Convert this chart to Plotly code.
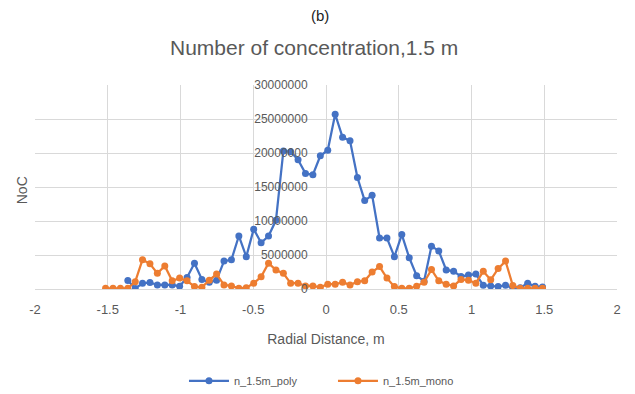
import plotly.graph_objects as go

radial_distance = [-1.515, -1.464, -1.413, -1.362, -1.311, -1.261, -1.210, -1.159, -1.108, -1.057,
                   -1.006, -0.955, -0.904, -0.853, -0.802, -0.752, -0.701, -0.650, -0.599, -0.548,
                   -0.497, -0.446, -0.395, -0.344, -0.293, -0.243, -0.192, -0.141, -0.090, -0.039,
                   0.012, 0.063, 0.114, 0.165, 0.216, 0.266, 0.317, 0.368, 0.419, 0.470,
                   0.521, 0.572, 0.623, 0.674, 0.725, 0.775, 0.826, 0.877, 0.928, 0.979,
                   1.030, 1.081, 1.132, 1.183, 1.234, 1.284, 1.335, 1.386, 1.437, 1.488]

n_poly = [None, None, None, 1.25e6, 0.08e6, 0.85e6, 0.95e6, 0.6e6, 0.6e6, 0.6e6,
          0.4e6, 1.7e6, 3.8e6, 1.4e6, 1.0e6, 1.3e6, 4.1e6, 4.3e6, 7.8e6, 4.75e6,
          8.8e6, 6.8e6, 7.8e6, 10.1e6, 20.3e6, 20.2e6, 19.0e6, 17.0e6, 16.8e6, 19.6e6,
          20.4e6, 25.7e6, 22.3e6, 21.8e6, 16.4e6, 13.0e6, 13.8e6, 7.5e6, 7.5e6, 4.75e6,
          8.0e6, 4.6e6, 1.95e6, 1.15e6, 6.3e6, 5.6e6, 2.8e6, 2.6e6, 1.85e6, 2.05e6,
          2.2e6, 0.55e6, 0.45e6, 0.35e6, 0.55e6, 0.15e6, 0.2e6, 0.85e6, 0.4e6, 0.3e6]

n_mono = [0.1e6, 0.1e6, 0.1e6, 0.1e6, 1.07e6, 4.3e6, 3.7e6, 2.3e6, 3.4e6, 1.2e6,
          1.6e6, 1.2e6, 0.35e6, 0.25e6, 1.3e6, 2.2e6, 0.6e6, 0.45e6, 0.1e6, 0.2e6,
          0.85e6, 1.8e6, 3.8e6, 2.8e6, 2.3e6, 0.85e6, 0.85e6, 0.45e6, 0.45e6, 0.25e6,
          0.7e6, 0.7e6, 1.0e6, 0.6e6, 1.07e6, 1.2e6, 2.5e6, 3.3e6, 1.6e6, 0.35e6,
          0.1e6, 0.1e6, 0.4e6, 1.0e6, 2.85e6, 1.2e6, 0.7e6, 0.45e6, 1.4e6, 1.3e6,
          0.85e6, 2.6e6, 1.35e6, 3.0e6, 4.1e6, 0.5e6, 0.1e6, 0.1e6, 0.1e6, 0.1e6]

x_tick_values = [-2, -1.5, -1, -0.5, 0, 0.5, 1, 1.5, 2]
x_tick_labels = ["-2", "-1.5", "-1", "-0.5", "0", "0.5", "1", "1.5", "2"]
y_tick_values = [0, 5000000, 10000000, 15000000, 20000000, 25000000, 30000000]

font_family = "Liberation Sans, Arial, sans-serif"
text_grey = "#595959"
grid_grey = "#D9D9D9"

fig = go.Figure()
fig.add_trace(go.Scatter(
    x=radial_distance, y=n_poly, name="n_1.5m_poly", mode="lines+markers",
    line=dict(color="#4472C4", width=2.25), marker=dict(color="#4472C4", size=7),
    connectgaps=False))
fig.add_trace(go.Scatter(
    x=radial_distance, y=n_mono, name="n_1.5m_mono", mode="lines+markers",
    line=dict(color="#ED7D31", width=2.25), marker=dict(color="#ED7D31", size=7)))

fig.update_layout(
    width=635, height=394,
    margin=dict(l=35, r=18, t=85, b=105, autoexpand=False),
    paper_bgcolor="white", plot_bgcolor="white",
    font=dict(family=font_family, size=12, color=text_grey),
    showlegend=True,
    legend=dict(orientation="h", x=0.512, xanchor="center", y=-0.45, yanchor="middle",
                font=dict(size=11, color=text_grey), itemwidth=40,
                entrywidth=94, entrywidthmode="pixels"),
    xaxis=dict(range=[-2, 2], tickvals=x_tick_values, ticktext=x_tick_labels,
               automargin=False,
               showgrid=True, gridcolor=grid_grey, gridwidth=1,
               zeroline=True, zerolinecolor=grid_grey, zerolinewidth=1,
               showline=True, linecolor=grid_grey, linewidth=1,
               ticks="outside", ticklen=8, tickcolor="rgba(0,0,0,0)",
               tickfont=dict(size=13, color=text_grey),
               title=dict(text="Radial Distance, m", font=dict(size=14, color=text_grey), standoff=18)),
    yaxis=dict(range=[0, 30000000], tickvals=y_tick_values, tickformat="d",
               anchor="free", position=0.5, automargin=False,
               showgrid=True, gridcolor=grid_grey, gridwidth=1,
               zeroline=False, showline=False,
               ticks="outside", ticklen=16, tickcolor="rgba(0,0,0,0)",
               tickfont=dict(size=12, color=text_grey)),
    annotations=[
        dict(text="(b)", xref="paper", yref="paper", x=0.49, y=1.343,
             showarrow=False, font=dict(size=15, color="#222222", family=font_family),
             xanchor="center", yanchor="middle"),
        dict(text="Number of concentration,1.5 m", xref="paper", yref="paper", x=0.48, y=1.186,
             showarrow=False, font=dict(size=21, color=text_grey, family=font_family),
             xanchor="center", yanchor="middle"),
        dict(text="NoC", xref="paper", yref="paper", x=-0.022, y=0.485, textangle=-90,
             showarrow=False, font=dict(size=14, color=text_grey, family=font_family),
             xanchor="center", yanchor="middle"),
    ],
)

fig.write_html("out.html")
